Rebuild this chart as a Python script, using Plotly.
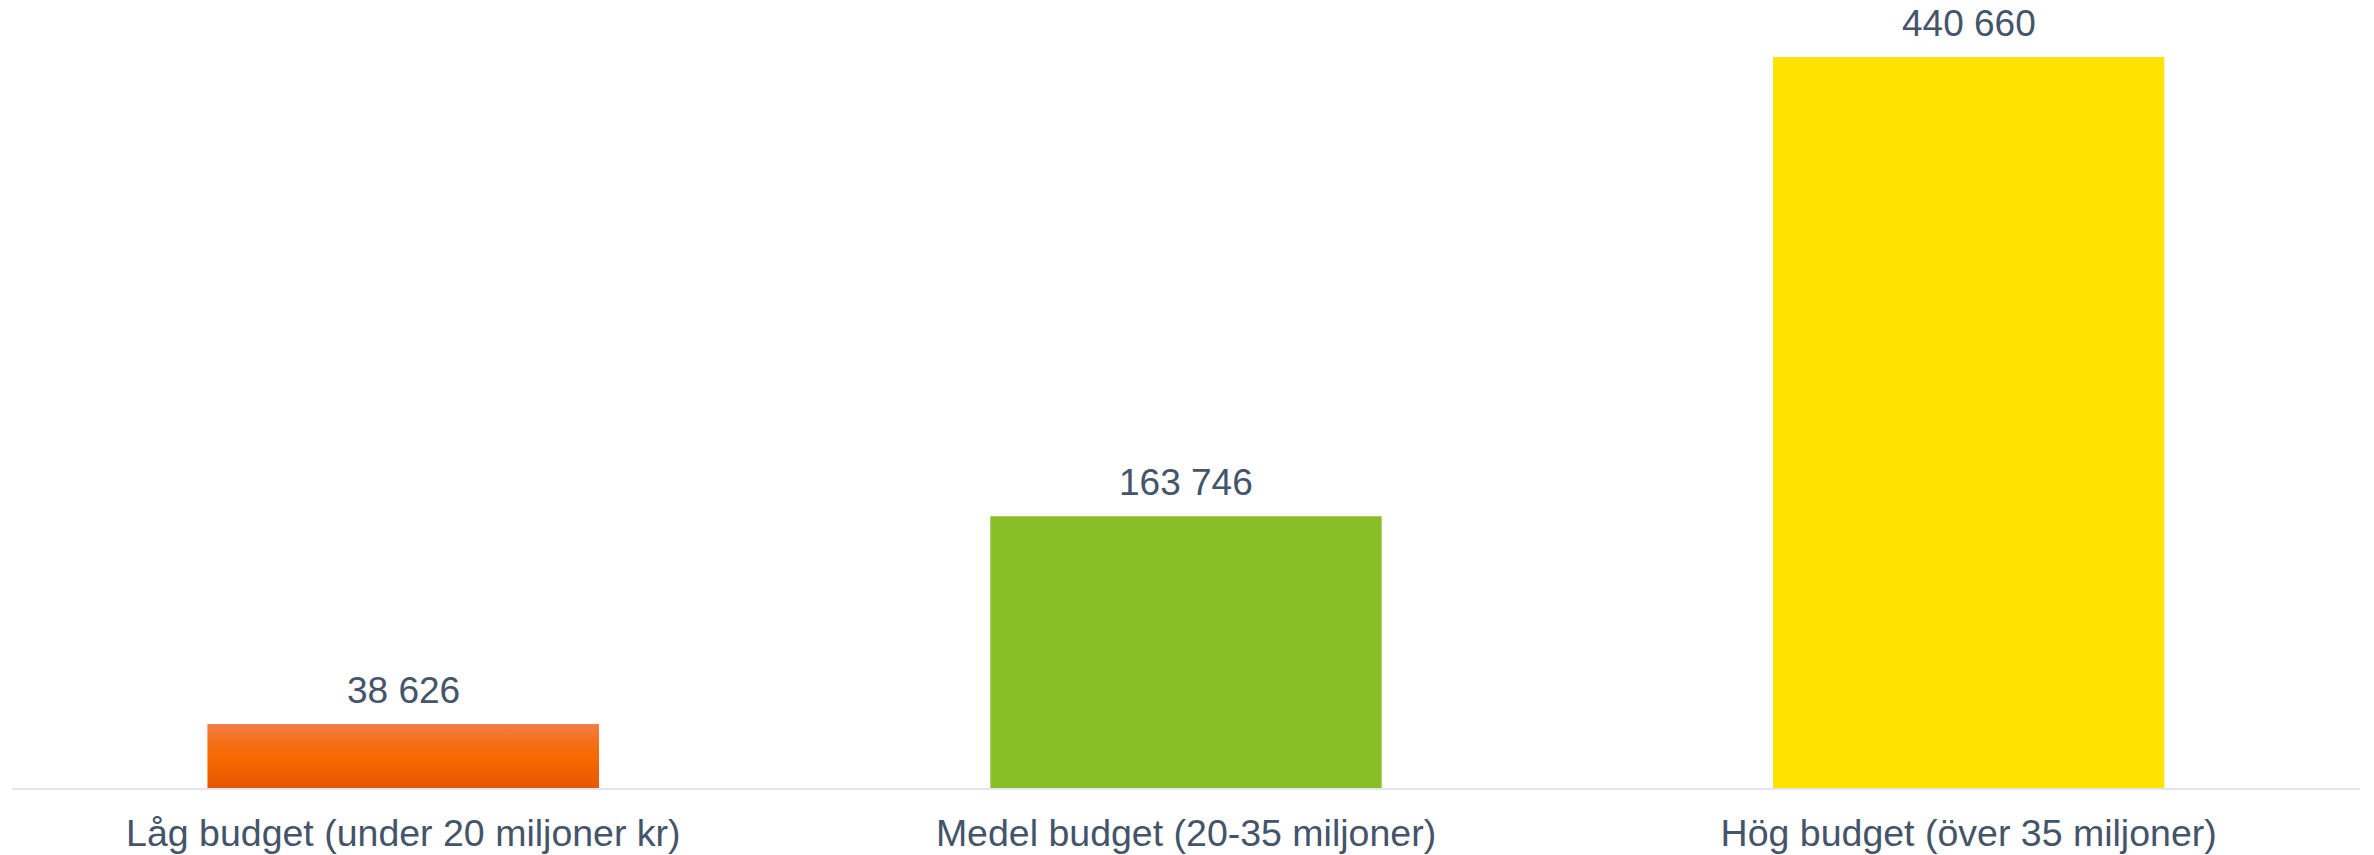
import plotly.graph_objects as go

categories = ["Låg budget (under 20 miljoner kr)", "Medel budget (20-35 miljoner)", "Hög budget (över 35 miljoner)"]
values = [38626, 163746, 440660]
labels = ["38 626", "163 746", "440 660"]
colors = ["#F46A0A", "#89BE27", "#FEE300"]
# vertical gradient of the first (orange) bar, bottom -> top
orange_gradient = [[0.0, "#E65800"], [0.45, "#F56800"], [0.7, "#F56F14"], [1.0, "#F37E4A"]]

TEXT = "#44546A"
FONT = "Liberation Sans, Arial, sans-serif"
BAR_WIDTH = 0.5

xpos = list(range(len(categories)))

fig = go.Figure()
fig.add_trace(go.Bar(x=xpos, y=values, width=BAR_WIDTH,
                     marker=dict(color=colors, line=dict(width=0)),
                     hoverinfo="skip"))

# gradient overlay for the orange bar, derived from its data value
i0, v0 = xpos[0], values[0]
fig.add_trace(go.Scatter(
    x=[i0 - BAR_WIDTH / 2, i0 + BAR_WIDTH / 2, i0 + BAR_WIDTH / 2, i0 - BAR_WIDTH / 2, i0 - BAR_WIDTH / 2],
    y=[0, 0, v0, v0, 0],
    mode="lines", line=dict(width=0), fill="toself", fillcolor=colors[0],
    fillgradient=dict(type="vertical", colorscale=orange_gradient),
    hoverinfo="skip"))

for x, v, t in zip(xpos, values, labels):
    fig.add_annotation(x=x, y=v, text=t, showarrow=False, yanchor="bottom",
                       yshift=11, font=dict(family=FONT, size=37, color=TEXT))

fig.update_layout(
    width=2374, height=855,
    margin=dict(l=12, r=14, t=57, b=67, autoexpand=False),
    paper_bgcolor="white", plot_bgcolor="white",
    showlegend=False,
    xaxis=dict(range=[-0.5, len(categories) - 0.5], tickvals=xpos, ticktext=categories,
               showline=True, linecolor="#E3E6EA", linewidth=2, showgrid=False,
               zeroline=False, automargin=False,
               ticks="", tickfont=dict(family=FONT, size=37.5, color=TEXT),
               ticklabelstandoff=11),
    yaxis=dict(visible=False, range=[0, 440660], showgrid=False, zeroline=False,
               automargin=False),
)

fig.write_html("out.html", config={"displayModeBar": False},
               post_script="document.body.style.margin='0';document.body.style.overflow='hidden';")
